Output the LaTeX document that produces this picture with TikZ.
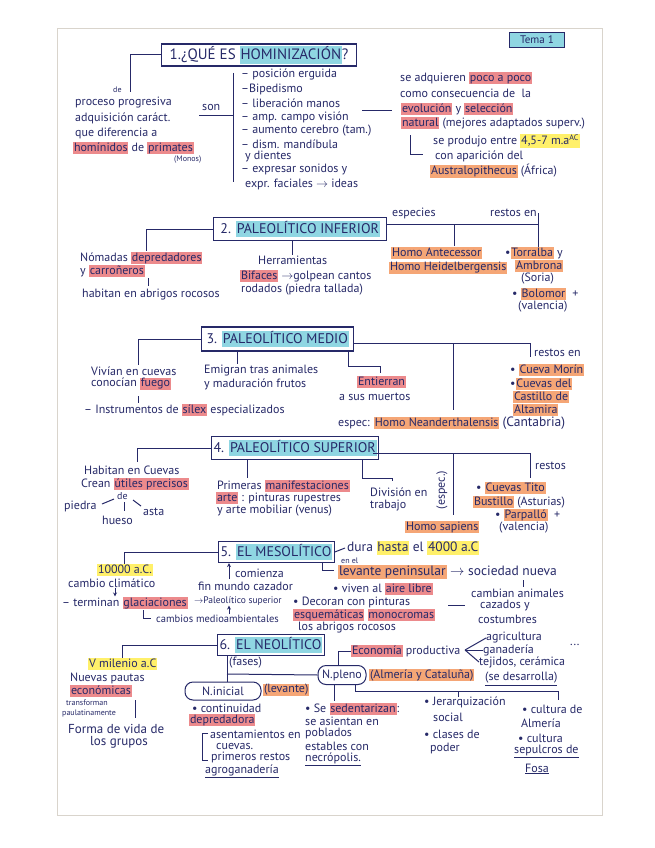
\documentclass[tikz,border=0pt]{standalone}
\usepackage{fontspec}
\setmainfont{PT Sans}
\usetikzlibrary{arrows.meta}
\definecolor{ink}{HTML}{262968}
\definecolor{hpink}{HTML}{EC8A8C}
\definecolor{hora}{HTML}{F5A676}
\definecolor{hyel}{HTML}{FFF06A}
\definecolor{hcya}{HTML}{8FD6E2}
\definecolor{paper}{HTML}{D9D4CC}
\setlength{\fboxsep}{0.8pt}
\newcommand{\hp}[1]{\colorbox{hpink}{\vphantom{Ay}#1}}
\newcommand{\ho}[1]{\colorbox{hora}{\vphantom{Ay}#1}}
\newcommand{\hy}[1]{\colorbox{hyel}{\vphantom{Ay}#1}}
\newcommand{\hc}[1]{\colorbox{hcya}{\vphantom{Ay}#1}}
\tikzset{
 tx/.style={anchor=west, inner sep=0pt, text=ink, font=\fontsize{12}{13}\selectfont},
 sm/.style={tx, font=\fontsize{8}{9}\selectfont},
 ttl/.style={draw=ink, line width=1.2pt, inner sep=2pt, text=ink, font=\fontsize{14}{15}\selectfont, anchor=west},
 ln/.style={draw=ink, line width=1pt},
 ar/.style={ln, -{Stealth[length=4pt,width=4pt]}},
 cl/.style={draw=ink, line width=1pt, rounded corners=8pt, text=ink, inner sep=2pt, font=\fontsize{12}{13}\selectfont},
}
\begin{document}
\begin{tikzpicture}[x=1pt,y=-1pt]
\useasboundingbox (0,0) rectangle (655,848);
\fill[white] (0,0) rectangle (655,848);
\draw[paper, line width=0.8pt] (57,28) rectangle (602,815);

% ---------- Section 1
\node[draw=ink, fill=hcya, line width=1pt, text=ink, inner sep=2pt, minimum width=55, minimum height=15, font=\fontsize{11}{12}\selectfont] (tema) at (537,40) {Tema 1};
\node[ttl, minimum width=195, minimum height=22, font=\fontsize{15}{16}\selectfont] (t1) at (161,55) {1.¿QUÉ ES \hc{HOMINIZACIÓN}?};
\coordinate (c1a) at (130,55);
\coordinate (c1b) at (130,92);
\draw[ln] (t1.west) -- (c1a) -- (c1b);
\node[sm] (de1) at (113,90) {de};
\node[tx] (p1) at (75,103) {proceso progresiva};
\node[tx] (p2) at (75,118) {adquisición caráct.};
\node[tx] (p3) at (75,133) {que diferencia a};
\node[tx] (p4) at (73,148) {\hp{homínidos} de \hp{primates}};
\node[sm] (p5) at (174,160) {(Monos)};
\node[tx] (son) at (202,108) {son};
\coordinate (c1c) at (199,116);
\coordinate (c1d) at (233,116);
\coordinate (c1e) at (233,73);
\coordinate (c1f) at (233,182);
\draw[ln] (c1c) -- (c1d);
\draw[ln] (c1e) -- (c1f);
\node[tx] (l1) at (241,74) {– posición erguida};
\node[tx] (l2) at (241,89) {–Bipedismo};
\node[tx] (l3) at (241,103) {– liberación manos};
\node[tx] (l4) at (241,117) {– amp. campo visión};
\node[tx] (l5) at (241,131) {– aumento cerebro (tam.)};
\node[tx] (l6) at (241,144) {– dism. mandíbula};
\node[tx] (l7) at (245,156) {y dientes};
\node[tx] (l8) at (241,169) {– expresar sonidos y};
\node[tx] (l9) at (245,184) {expr. faciales $\to$ ideas};
\coordinate (c1g) at (362,111);
\coordinate (c1h) at (392,111);
\draw[ln] (c1g) -- (c1h);
\node[tx] (r1) at (400,78) {se adquieren \hp{poco a poco}};
\node[tx] (r2) at (400,93) {como consecuencia de\ \ la};
\node[tx] (r3) at (401,109) {\hp{evolución} y \hp{selección}};
\node[tx] (r4) at (401,123) {\hp{natural} (mejores adaptados superv.)};
\coordinate (c1i) at (410,135);
\coordinate (c1j) at (410,154);
\coordinate (c1k) at (423,154);
\draw[ln] (c1i) -- (c1j) -- (c1k);
\node[tx] (r5) at (433,141) {se produjo entre \hy{4,5-7 m.a\textsuperscript{AC}}};
\node[tx] (r6) at (435,156) {con aparición del};
\node[tx] (r7) at (430,171) {\ho{Australopithecus} (África)};

% ---------- Section 2
\node[ttl, minimum width=173, minimum height=23] (t2) at (213,229) {2. \hc{PALEOLÍTICO INFERIOR}};
\coordinate (c2a) at (146,229);
\coordinate (c2b) at (146,251);
\draw[ln] (t2.west) -- (c2a) -- (c2b);
\node[tx] (n1) at (80,258) {Nómadas \hp{depredadores}};
\node[tx] (n2) at (80,271) {y \hp{carroñeros}};
\draw[ln] (148,278) -- (148,286);
\node[tx] (n3) at (82,295) {habitan en abrigos rocosos};
\node[tx] (h1) at (258,260) {Herramientas};
\draw[ln] (h1.north |- t2.south) -- (h1.north);
\node[tx] (h2) at (240,276) {\hp{Bifaces} $\to$golpean cantos};
\node[tx] (h3) at (241,290) {rodados (piedra tallada)};
\coordinate (c2c) at (386,224);
\coordinate (c2d) at (538,224);
\draw[ln] (c2c) -- (c2d);
\draw[ln] (454,224) -- (454,246);
\draw[ln] (538,213) -- (538,249);
\node[tx] (e1) at (392,213) {especies};
\node[tx] (e2) at (490,213) {restos en};
\node[tx] (h4) at (391,253) {\ho{Homo Antecessor}};
\node[tx] (h5) at (389,268) {\ho{Homo Heidelbergensis}};
\node[tx] (s1) at (505,253) {•\ho{Torralba} y};
\node[tx] (s2) at (515,266) {\ho{Ambrona}};
\node[tx] (s3) at (521,279) {(Soria)};
\node[tx] (s4) at (512,294) {• \ho{Bolomor}\ \ +};
\node[tx] (s5) at (518,307) {(valencia)};

% ---------- Section 3
\node[ttl, minimum width=152, minimum height=24] (t3) at (201,339) {3. \hc{PALEOLÍTICO MEDIO}};
\coordinate (c3a) at (138,339);
\coordinate (c3b) at (138,365);
\draw[ln] (t3.west) -- (c3a) -- (c3b);
\node[tx] (m1) at (91,371) {Vivían en cuevas};
\node[tx] (m2) at (91,384) {conocían \hp{fuego}};
\draw[ln] (138,396) -- (138,403);
\node[tx] (m3) at (84,410) {– Instrumentos de \hp{sílex} especializados};
\node[tx] (m4) at (204,371) {Emigran tras animales};
\draw[ln] (237,351) -- (237,364);
\node[tx] (m5) at (204,384) {y maduración frutos};
\draw[ln] (348,351) -- (348,366) -- (380,366) -- (380,373);
\node[tx] (m6) at (357,382) {\hp{Entierran}};
\node[tx] (m7) at (339,397) {a sus muertos};
\draw[ln] (353,343) -- (530,343);
\draw[ln] (453,343) -- (453,410);
\draw[ln] (530,343) -- (530,357);
\node[tx] (m8) at (534,353) {restos en};
\node[tx] (m9) at (510,370) {• \ho{Cueva Morín}};
\node[tx] (m10) at (510,384) {•\ho{Cuevas del}};
\node[tx] (m11) at (513,397) {\ho{Castillo de}};
\node[tx] (m12) at (513,410) {\ho{Altamira}};
\node[tx] (m13) at (338,423) {espec: \ho{Homo Neanderthalensis} {\fontsize{13.5}{14}\selectfont (Cantabria)}};

% ---------- Section 4
\node[ttl, minimum width=162, minimum height=23] (t4) at (211,448) {4. \hc{PALEOLÍTICO SUPERIOR}};
\coordinate (c4a) at (137,448);
\coordinate (c4b) at (137,462);
\draw[ln] (t4.west) -- (c4a) -- (c4b);
\node[tx] (u1) at (84,470) {Habitan en Cuevas};
\node[tx] (u2) at (81,484) {Crean \hp{útiles precisos}};
\node[tx, font=\fontsize{10}{11}\selectfont] (de2) at (117,496) {de};
\draw[ln] (114,499) -- (102,504);
\draw[ln] (124,502) -- (124,511);
\draw[ln] (133,500) -- (141,506);
\node[tx] (u3) at (64,506) {piedra};
\node[tx] (u4) at (102,520) {hueso};
\node[tx] (u5) at (143,512) {asta};
\draw[ln] (247,460) -- (247,478);
\node[tx] (u6) at (217,486) {Primeras \hp{manifestaciones}};
\node[tx] (u7) at (216,498) {\hp{arte} : pinturas rupestres};
\node[tx] (u8) at (217,511) {y arte mobiliar (venus)};
\draw[ln] (362,460) -- (362,478) -- (392,478) -- (392,481);
\node[tx] (u9) at (370,492) {División en};
\node[tx] (u10) at (370,506) {trabajo};
\draw[ln] (373,453) -- (530,453);
\draw[ln] (453,453) -- (453,515);
\draw[ln] (530,453) -- (530,478);
\node[tx, anchor=center, rotate=90] (u11) at (442,490) {(espec.)};
\node[tx] (u12) at (535,466) {restos};
\node[tx] (u13) at (405,527) {\ho{Homo sapiens}};
\node[tx] (u14) at (476,488) {• \ho{Cuevas Tito}};
\node[tx] (u15) at (473,502) {\ho{Bustillo} (Asturias)};
\node[tx] (u16) at (495,515) {• \ho{Parpalló}\ \ +};
\node[tx] (u17) at (499,528) {(valencia)};

% ---------- Section 5
\node[ttl, minimum width=115, minimum height=21] (t5) at (218,552) {5. \hc{EL MESOLÍTICO}};
\node[tx] (v1) at (97,570) {\hy{10000 a.C.}};
\draw[ln] (t5.west) -| (v1.north);
\node[tx] (v2) at (68,583) {cambio climático};
\node[tx] (v4) at (62,603) {– terminan \hp{glaciaciones}};
\draw[ar] (v2.south -| 115,0) -- (v4.north -| 115,0);
\draw[ln] (143,610) -- (143,618) -- (151,618);
\node[tx, font=\fontsize{10.5}{12}\selectfont] (v5) at (156,619) {cambios medioambientales};
\node[tx] (v6) at (198,586) {fin mundo cazador};
\node[tx, font=\fontsize{9.5}{11}\selectfont] (v7) at (194,601) {$\to$Paleolítico superior};
\node[tx] (v18) at (235,573) {comienza};
\draw[ar] (229,579) -- (t5.south -| 229,0);
\draw[ar] (229,614) -- (v7.south -| 229,0);
\coordinate (c5a) at (345,548);
\draw[ln] (t5.east) -- (c5a);
\node[tx, font=\fontsize{13.5}{14}\selectfont] (v8) at (347,548) {dura \hy{hasta} el \hy{4000 a.C}};
\draw[ln] (322,563) -- (322,570) -- (334,570);
\node[sm] (v9) at (341,561) {en el};
\node[tx, font=\fontsize{13.5}{14}\selectfont] (v10) at (338,572) {\ho{levante peninsular} $\to$ sociedad nueva};
\draw[ln] (523,580) -- (523,587);
\node[tx] (v11) at (471,593) {cambian animales};
\node[tx] (v12) at (480,606) {cazados y};
\node[tx] (v13) at (478,619) {costumbres};
\draw[ln] (448,605) -- (465,605);
\node[tx] (v14) at (333,589) {• viven al \hp{aire libre}};
\node[tx] (v15) at (293,602) {• Decoran con pinturas};
\node[tx] (v16) at (293,615) {\hp{esquemáticas} \hp{monocromas}};
\node[tx] (v17) at (298,628) {los abrigos rocosos};

% ---------- Section 6
\node[ttl, minimum width=105, minimum height=19] (t6) at (217,645) {6. \hc{EL NEOLÍTICO}};
\node[tx] (w1) at (88,664) {\hy{V milenio a.C}};
\draw[ln] (t6.west) -| (w1.north);
\node[tx] (w2) at (70,678) {Nuevas pautas};
\node[tx] (w3) at (70,691) {\hp{económicas}};
\node[sm] (w4) at (66,703) {transforman};
\node[sm] (w5) at (62,713) {paulatinamente};
\draw[ln] (135,700) -- (135,718);
\node[tx, font=\fontsize{13}{14}\selectfont] (w6) at (68,729) {Forma de vida de};
\node[tx, font=\fontsize{13}{14}\selectfont] (w7) at (90,742) {los grupos};
\node[tx] (w8) at (229,663) {(fases)};
\node[cl, minimum width=76, minimum height=18] (ni) at (223,691) {N.inicial};
\node[cl, minimum width=48, minimum height=19] (np) at (342,675) {N.pleno};
\draw[ln] (t6.south -| 227,0) -- (ni.north -| 227,0);
\draw[ln] (227,674) -- (np.west);
\node[tx] (w9) at (263,690) {\ho{(levante)}};
\node[tx] (w10) at (192,708) {• continuidad};
\node[tx] (w11) at (189,720) {\hp{depredadora}};
\draw[ln] (208,733) -- (202,733) -- (202,760) -- (208,760);
\node[tx] (w12) at (210,734) {asentamientos en};
\node[tx] (w13) at (216,746) {cuevas.};
\node[tx] (w14) at (211,757) {primeros restos};
\node[tx] (w15) at (205,771) {\underline{agroganadería}};
\node[tx] (w16) at (369,675) {\ho{(Almería y Cataluña)}};
\node[tx] (w17) at (351,651) {\hp{Economía} productiva};
\draw[ln] (np.north -| 338,0) -- (338,651) -- (w17.west);
\coordinate (c6a) at (465,650);
\node[tx] (w18) at (486,638) {agricultura};
\node[tx] (w19) at (483,650) {ganadería};
\node[tx] (w20) at (479,662) {tejidos, cerámica};
\node[tx] (w21) at (570,645) {...};
\draw[ln] (c6a) -- (w18.west);
\draw[ln] (c6a) -- (w19.west);
\draw[ln] (c6a) -- (w20.west);
\node[tx] (w22) at (485,679) {\underline{(se desarrolla)}};
\draw[ln] (np.south -| 334,0) -- (334,701);
\draw[ln] (np.south -| 355,0) -- (355,691) -- (558,691) -- (558,700);
\draw[ln] (458,691) -- (458,697);
\node[tx] (w23) at (305,709) {• Se \hp{sedentarizan}:};
\node[tx] (w24) at (305,721) {se asientan en};
\node[tx] (w25) at (305,733) {poblados};
\node[tx] (w26) at (305,746) {estables con};
\node[tx] (w27) at (305,759) {\underline{necrópolis.}};
\node[tx] (w28) at (424,702) {• Jerarquización};
\node[tx] (w29) at (433,717) {social};
\node[tx] (w30) at (424,734) {• clases de};
\node[tx] (w31) at (430,748) {poder};
\node[tx] (w32) at (522,709) {• cultura de};
\node[tx] (w33) at (521,723) {Almería};
\node[tx] (w34) at (518,738) {• cultura};
\node[tx] (w35) at (514,751) {\underline{sepulcros de}};
\node[tx] (w36) at (525,769) {\underline{Fosa}};
\end{tikzpicture}
\end{document}
